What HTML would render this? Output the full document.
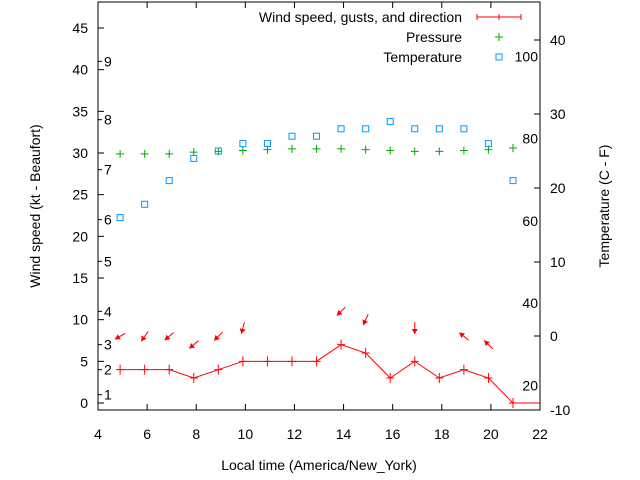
<!DOCTYPE html>
<html><head><meta charset="utf-8"><style>
body{margin:0;background:#fff}
svg{display:block;font-family:"Liberation Sans",sans-serif}
</style></head><body>
<svg id="c" width="640" height="480">
</svg>
<script>
const hours=[4.9,5.9,6.9,7.9,8.9,9.9,10.9,11.9,12.9,13.9,14.9,15.9,16.9,17.9,18.9,19.9,20.9];
const windKt=[4,4,4,3,4,5,5,5,5,7,6,3,5,3,4,3,0];
const pressure=[29.9,29.9,29.9,30.1,30.2,30.3,30.4,30.5,30.5,30.5,30.4,30.3,30.2,30.2,30.3,30.4,30.6];
const tempC=[16,17.8,21,24,25,26,26,27,27,28,28,29,28,28,28,26,21];
const arrowKt=[8,8,8,7,8,9,null,null,null,11,10,null,9,null,8,7,null];
const windFrom=[60,35,50,50,45,15,null,null,null,45,25,null,0,null,130,135,null];
const xTicks=[4,6,8,10,12,14,16,18,20,22];
const yTicks=[0,5,10,15,20,25,30,35,40,45];
const tTicks=[-10,0,10,20,30,40];
const fLabels=[20,40,60,80,100];
const beaufort=[1,4,7,11,17,22,28,34,41];

const L=98,R=540,T=2,B=410;
const sx=h=>L+(h-4)*(R-L)/18;
const sy=v=>403-v*8.333;
const st=c=>410-(c+10)*7.4;
const svg=document.getElementById('c');
const NS='http://www.w3.org/2000/svg';
function mk(tag,a,p){const e=document.createElementNS(NS,tag);for(const k in a)e.setAttribute(k,a[k]);(p||svg).appendChild(e);return e;}
function txt(s,x,y,anchor,p){const t=mk('text',{x:x,y:y,'font-size':14,'text-anchor':anchor||'middle',fill:'#000'},p);t.textContent=s;return t;}

const frame=mk('rect',{x:L,y:T,width:R-L,height:B-T,fill:'none',stroke:'#000','stroke-width':1});



xTicks.forEach(h=>{const x=sx(h);
 mk('line',{x1:x,y1:B,x2:x,y2:B-6,stroke:'#000'});mk('line',{x1:x,y1:T,x2:x,y2:T+6,stroke:'#000'});
 const t=txt(h,x,439);});
yTicks.forEach(v=>{const y=sy(v);
 mk('line',{x1:L,y1:y,x2:L+6,y2:y,stroke:'#000'});
 const t=txt(v,88,y+5,'end');});
tTicks.forEach(c=>{const y=st(c);
 mk('line',{x1:R,y1:y,x2:R-6,y2:y,stroke:'#000'});
 const t=txt(c,550,y+5,'start');});
fLabels.forEach(f=>{const y=st((f-32)*5/9);
 const t=txt(f,538,y+5,'end');});
beaufort.forEach((k,i)=>{const y=sy(k);
 mk('line',{x1:L,y1:y,x2:L+4,y2:y,stroke:'#000'});
 const t=txt(i+1,104,y+5,'start');});

const xt=txt('Local time (America/New_York)',319,470);
const yt=txt('Wind speed (kt - Beaufort)',0,0);yt.setAttribute('transform','translate(40,206) rotate(-90)');

const tt=txt('Temperature (C - F)',0,0);tt.setAttribute('transform','translate(609,206) rotate(-90)');


// wind line
let d='';hours.forEach((h,i)=>{d+=(i?'L':'M')+sx(h)+' '+sy(windKt[i]);});d+='L'+R+' '+sy(windKt[windKt.length-1]);
const wl=mk('path',{d:d,fill:'none',stroke:'#f00','stroke-width':1});

hours.forEach((h,i)=>{const x=sx(h),y=sy(windKt[i]);
 const p=mk('path',{d:`M${x-4} ${y}H${x+4}M${x} ${y-5}V${y+5}`,stroke:'#f00'});
 });
// arrows
hours.forEach((h,i)=>{if(arrowKt[i]==null)return;
 const a=(windFrom[i])*Math.PI/180;const dx=-Math.sin(a),dy=Math.cos(a);
 const cx=sx(h),cy=sy(arrowKt[i]);const x1=cx-dx*6,y1=cy-dy*6,x2=cx+dx*6,y2=cy+dy*6;
 const g=mk('g',{});
 mk('line',{x1:x1,y1:y1,x2:x2,y2:y2,stroke:'#f00'},g);
 const px=-dy,py=dx;
 mk('polygon',{points:`${x2},${y2} ${x2-dx*5+px*3},${y2-dy*5+py*3} ${x2-dx*5-px*3},${y2-dy*5-py*3}`,fill:'#f00'},g);});
// pressure
hours.forEach((h,i)=>{const x=sx(h),y=sy(pressure[i]);
 const p=mk('path',{d:`M${x-4} ${y}H${x+4}M${x} ${y-4}V${y+4}`,stroke:'#0a0'});
 });
// temperature
hours.forEach((h,i)=>{const x=sx(h),y=st(tempC[i]);
 const r=mk('rect',{x:x-3,y:y-3,width:6,height:6,fill:'none',stroke:'#09f'});
 });

// legend
const lg=mk('g',{});
txt('Wind speed, gusts, and direction',462,22,'end',lg);
mk('path',{d:'M477 17H521M477 14V20M499 14V20M521 14V20',stroke:'#f00'},lg);
txt('Pressure',462,42,'end',lg);
mk('path',{d:'M495 37H503M499 33V41',stroke:'#0a0'},lg);
txt('Temperature',462,62,'end',lg);
mk('rect',{x:496,y:54,width:6,height:6,fill:'none',stroke:'#09f'},lg);
</script>
</body></html>
